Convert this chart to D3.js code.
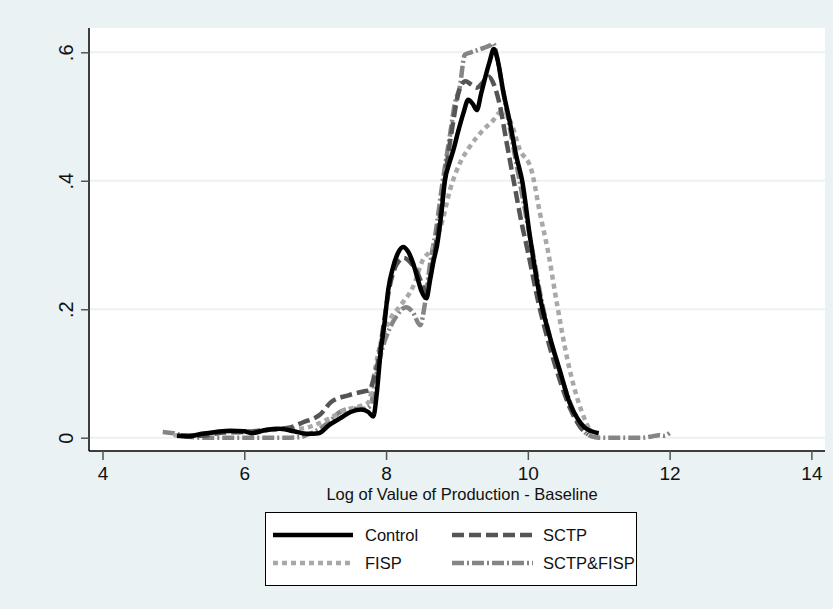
<!DOCTYPE html>
<html><head><meta charset="utf-8">
<script src="https://cdn.jsdelivr.net/npm/d3@7/dist/d3.min.js"></script>
<style>body{margin:0;background:#EAF2F3;}svg{display:block;}</style>
</head><body>
<script>
// ---- data ----
const xTicks = [4, 6, 8, 10, 12, 14];
const yTicks = [0, 0.2, 0.4, 0.6];
const yTickLabels = ["0", ".2", ".4", ".6"];
const xTitle = "Log of Value of Production - Baseline";
const seriesNames = ["Control", "SCTP", "FISP", "SCTP&FISP"];

const controlX = [5.05,5.2,5.4,5.6,5.8,6.0,6.1,6.3,6.5,6.7,6.9,7.05,7.2,7.35,7.5,7.65,7.75,7.82,7.87,7.92,7.98,8.03,8.1,8.17,8.24,8.31,8.38,8.44,8.5,8.57,8.62,8.67,8.72,8.78,8.83,8.9,8.95,9.02,9.09,9.16,9.22,9.28,9.34,9.39,9.46,9.52,9.58,9.65,9.75,9.84,9.92,10.03,10.17,10.31,10.45,10.59,10.7,10.8,10.9,11.0];
const controlY = [0.003,0.002,0.006,0.009,0.011,0.010,0.007,0.012,0.014,0.010,0.006,0.007,0.020,0.030,0.040,0.044,0.040,0.033,0.07,0.13,0.18,0.23,0.266,0.288,0.297,0.290,0.272,0.25,0.228,0.217,0.245,0.275,0.30,0.349,0.40,0.43,0.448,0.478,0.505,0.526,0.52,0.51,0.535,0.557,0.585,0.605,0.585,0.541,0.489,0.437,0.40,0.313,0.219,0.157,0.105,0.054,0.03,0.016,0.010,0.007];

const sctpX = [5.1,5.4,5.7,6.0,6.3,6.5,6.65,6.83,7.07,7.23,7.47,7.68,7.77,7.82,7.89,7.97,8.05,8.15,8.25,8.35,8.45,8.52,8.57,8.62,8.7,8.78,8.85,8.93,9.03,9.12,9.2,9.28,9.38,9.45,9.52,9.6,9.7,9.8,9.92,10.0,10.15,10.3,10.45,10.6,10.75,10.85];
const sctpY = [0.004,0.003,0.008,0.009,0.012,0.014,0.016,0.024,0.036,0.056,0.066,0.072,0.074,0.09,0.12,0.18,0.235,0.27,0.28,0.272,0.255,0.235,0.225,0.25,0.30,0.36,0.42,0.48,0.54,0.555,0.55,0.545,0.555,0.562,0.55,0.52,0.46,0.40,0.33,0.29,0.21,0.145,0.09,0.045,0.015,0.005];

const fispX = [5.0,5.3,5.6,5.9,6.2,6.5,6.8,7.0,7.2,7.4,7.6,7.75,7.85,7.91,8.05,8.19,8.38,8.52,8.67,8.8,8.9,9.04,9.18,9.37,9.51,9.61,9.66,9.75,9.89,10.05,10.17,10.29,10.41,10.55,10.69,10.83,10.9];
const fispY = [0.004,0.004,0.008,0.010,0.010,0.013,0.014,0.02,0.03,0.042,0.048,0.055,0.11,0.142,0.183,0.204,0.235,0.277,0.297,0.34,0.385,0.427,0.453,0.479,0.494,0.507,0.508,0.494,0.448,0.417,0.35,0.287,0.209,0.126,0.064,0.022,0.007];

const bothX = [4.85,5.0,5.2,5.4,5.8,6.2,6.6,6.8,6.9,7.0,7.2,7.35,7.5,7.7,7.78,7.85,7.95,8.05,8.15,8.28,8.38,8.48,8.55,8.62,8.7,8.8,8.9,8.97,9.04,9.11,9.2,9.28,9.38,9.47,9.51,9.57,9.65,9.75,9.85,9.95,10.05,10.2,10.35,10.5,10.65,10.78,10.9,11.0,11.3,11.6,11.75,11.85,11.92,12.0];
const bothY = [0.009,0.007,0.002,0.0,0.0,0.0,0.0,0.001,0.005,0.01,0.025,0.04,0.045,0.045,0.05,0.09,0.14,0.17,0.19,0.203,0.195,0.175,0.21,0.27,0.32,0.40,0.47,0.52,0.546,0.596,0.60,0.603,0.607,0.611,0.614,0.59,0.54,0.48,0.42,0.36,0.30,0.21,0.14,0.085,0.04,0.012,0.002,0.0,0.0,0.0,0.002,0.004,0.003,0.007];

// ---- drawing ----
const W = 833, H = 609;
const plot = {l: 89, r: 825, t: 28, b: 451};
const svg = d3.select("body").append("svg").attr("width", W).attr("height", H);
svg.append("rect").attr("width", W).attr("height", H).attr("fill", "#EAF2F3");
svg.append("rect").attr("x", plot.l).attr("y", plot.t).attr("width", plot.r - plot.l).attr("height", plot.b - plot.t).attr("fill", "#fff");

const x = d3.scaleLinear().domain([4, 14]).range([102.5, 811.4]);
const y = d3.scaleLinear().domain([0, 0.6]).range([437.7, 52.3]);

// gridlines
svg.append("g").selectAll("line").data(yTicks).join("line")
  .attr("x1", plot.l).attr("x2", plot.r).attr("y1", d => y(d)).attr("y2", d => y(d))
  .attr("stroke", "#EAF2F3").attr("stroke-width", 2);

const font = "'Liberation Sans', Arial, sans-serif";

// x axis
const xAxis = d3.axisBottom(x).tickValues(xTicks).tickSize(9).tickPadding(7).tickFormat(d3.format("d"));
const gx = svg.append("g").attr("transform", `translate(0,${plot.b})`).call(xAxis);
gx.select(".domain").attr("d", `M${plot.l},0H${plot.r}`).attr("stroke", "#000").attr("stroke-width", 1.5);
gx.selectAll(".tick line").attr("stroke", "#555").attr("stroke-width", 1.5);
gx.selectAll(".tick text").attr("font-family", font).attr("font-size", 19).attr("fill", "#111");

// y axis
const yAxis = d3.axisLeft(y).tickValues(yTicks).tickSize(8).tickFormat((d, i) => yTickLabels[i]);
const gy = svg.append("g").attr("transform", `translate(${plot.l},0)`).call(yAxis);
gy.select(".domain").attr("d", `M0,${plot.t}V${plot.b}`).attr("stroke", "#000").attr("stroke-width", 1.5);
gy.selectAll(".tick line").attr("stroke", "#555").attr("stroke-width", 1.5);
gy.selectAll(".tick text").attr("font-family", font).attr("font-size", 20).attr("fill", "#111")
  .attr("text-anchor", "middle").attr("dy", null).attr("x", null)
  .attr("transform", "translate(-16,0) rotate(-90)");

// x title
svg.append("text").attr("x", (plot.l + plot.r) / 2 + 5).attr("y", 500).attr("text-anchor", "middle")
  .attr("font-family", font).attr("font-size", 16.5).attr("fill", "#111").text(xTitle);

// series
const styles = [
  {color: "#000000", dash: null, w: 4.5},
  {color: "#555555", dash: "12,5", w: 4.5},
  {color: "#a8a8a8", dash: "5,4", w: 4.5},
  {color: "#858585", dash: "12,3,2,3", w: 4.5}
];
const seriesData = [
  d3.zip(controlX, controlY),
  d3.zip(sctpX, sctpY),
  d3.zip(fispX, fispY),
  d3.zip(bothX, bothY)
];
const line = d3.line().x(d => x(d[0])).y(d => y(d[1])).curve(d3.curveMonotoneX);
const drawOrder = [3, 2, 1, 0];
drawOrder.forEach(i => {
  svg.append("path").datum(seriesData[i]).attr("d", line).attr("fill", "none")
    .attr("stroke", styles[i].color).attr("stroke-width", styles[i].w)
    .attr("stroke-dasharray", styles[i].dash).attr("stroke-linejoin", "round");
});

// legend
const lg = svg.append("g");
lg.append("rect").attr("x", 265.5).attr("y", 512.5).attr("width", 371).attr("height", 73)
  .attr("fill", "#fff").attr("stroke", "#000").attr("stroke-width", 1);
const cols = [{x1: 273, x2: 353, tx: 365}, {x1: 452, x2: 533, tx: 543}];
const rows = [535, 563];
seriesNames.forEach((name, i) => {
  const c = cols[i % 2], r = rows[Math.floor(i / 2)];
  lg.append("line").attr("x1", c.x1).attr("x2", c.x2).attr("y1", r).attr("y2", r)
    .attr("stroke", styles[i].color).attr("stroke-width", styles[i].w).attr("stroke-dasharray", styles[i].dash);
  lg.append("text").attr("x", c.tx).attr("y", r + 6).attr("font-family", font).attr("font-size", 16.5)
    .attr("fill", "#111").text(name);
});
</script>
</body></html>
